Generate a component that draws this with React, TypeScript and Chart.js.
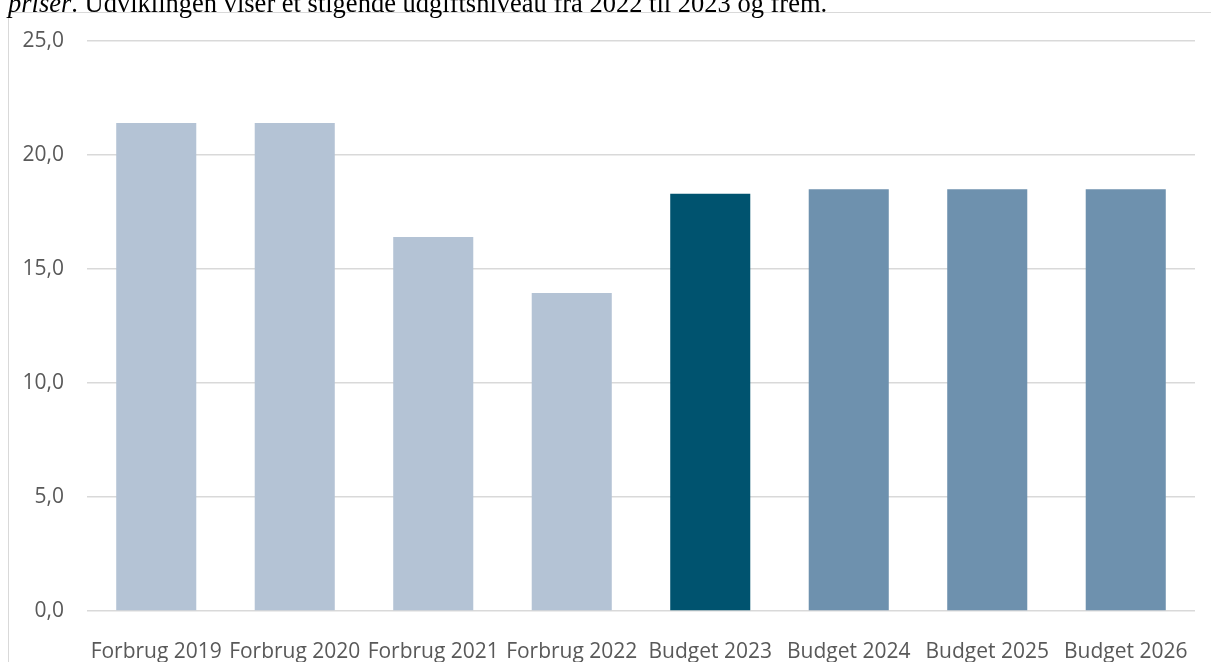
import React, { useEffect, useRef } from "react";
import { Chart, registerables } from "chart.js";

Chart.register(...registerables);

const categories = [
  "Forbrug 2019",
  "Forbrug 2020",
  "Forbrug 2021",
  "Forbrug 2022",
  "Budget 2023",
  "Budget 2024",
  "Budget 2025",
  "Budget 2026",
];
const values = [21.4, 21.4, 16.4, 13.95, 18.3, 18.5, 18.5, 18.5];
const barColors = [
  "#B4C3D5",
  "#B4C3D5",
  "#B4C3D5",
  "#B4C3D5",
  "#00536F",
  "#6E91AE",
  "#6E91AE",
  "#6E91AE",
];
const yTicks = [0, 5, 10, 15, 20, 25];

const W = 1211;
const H = 700;

export default function App() {
  const ref = useRef<HTMLCanvasElement | null>(null);

  useEffect(() => {
    document.body.style.margin = "0";
    const canvas = ref.current;
    if (!canvas) return;
    const chart = new Chart(canvas, {
      type: "bar",
      data: {
        labels: categories,
        datasets: [
          {
            data: values,
            backgroundColor: barColors,
            borderWidth: 0,
            barPercentage: 0.578,
            categoryPercentage: 1,
          },
        ],
      },
      options: {
        responsive: false,
        animation: false,
        layout: { padding: { left: 0, right: 16, top: 41, bottom: 0 } },
        plugins: { legend: { display: false }, tooltip: { enabled: false } },
        scales: {
          x: {
            grid: { display: false, drawTicks: false },
            border: { display: false },
            ticks: {
              autoSkip: false,
              maxRotation: 0,
              minRotation: 0,
              padding: 28,
              color: "#595959",
              font: { family: "'Open Sans'", size: 21 },
            },
            afterFit: (scale: any) => {
              scale.height = H - 611;
              scale.paddingLeft = 0;
              scale.paddingRight = 0;
            },
          },
          y: {
            min: 0,
            max: 25,
            afterBuildTicks: (scale: any) => {
              scale.ticks = yTicks.map((v) => ({ value: v }));
            },
            grid: { color: "#D9D9D9", lineWidth: 1.5, drawTicks: false },
            border: { display: false },
            ticks: {
              padding: 23,
              color: "#595959",
              font: { family: "'Open Sans'", size: 21 },
              callback: (v: any) => Number(v).toFixed(1).replace(".", ","),
            },
            afterFit: (scale: any) => {
              scale.width = 87;
            },
          },
        },
      },
    });
    return () => chart.destroy();
  }, []);

  return (
    <div
      style={{
        position: "fixed",
        left: 0,
        top: 0,
        width: W,
        height: 662,
        overflow: "hidden",
        background: "#fff",
      }}
    >
      <div
        style={{
          position: "absolute",
          left: 8,
          top: 12,
          width: W,
          height: 700,
          borderLeft: "1.5px solid #D9D9D9",
          borderTop: "1.5px solid #D9D9D9",
        }}
      />
      <canvas
        ref={ref}
        width={W}
        height={H}
        style={{ position: "absolute", left: 0, top: 0, width: W, height: H }}
      />
      <div
        style={{
          position: "absolute",
          left: 8,
          top: -10,
          whiteSpace: "nowrap",
          fontFamily: "'Liberation Serif', 'Times New Roman', serif",
          fontSize: 26.5,
          lineHeight: "26.5px",
          color: "#000",
        }}
      >
        <i>priser</i>. Udviklingen viser et stigende udgiftsniveau fra 2022 til 2023 og frem.
      </div>
    </div>
  );
}
